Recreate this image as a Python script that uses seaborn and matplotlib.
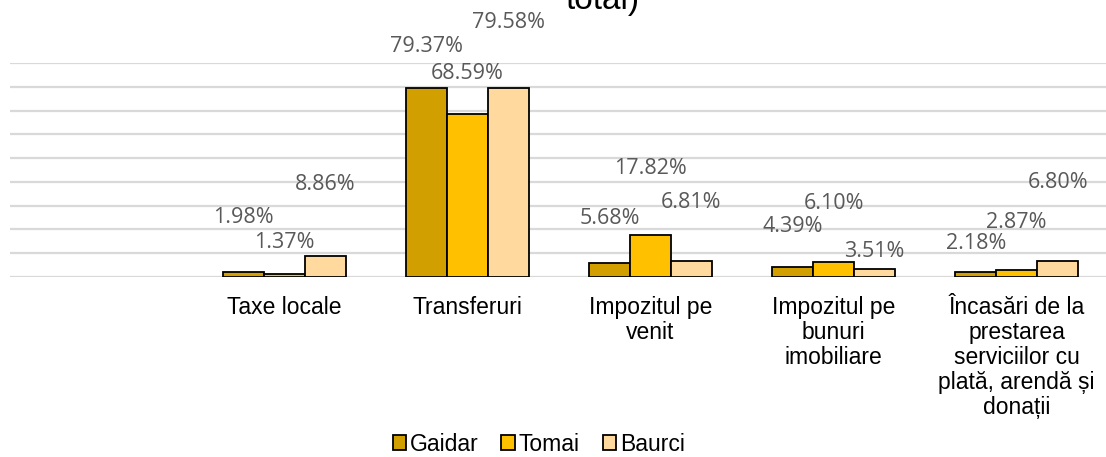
import pandas as pd
import matplotlib.pyplot as plt
import seaborn as sns

# categories (first slot is empty in the original chart)
categories = ["", "Taxe locale", "Transferuri", "Impozitul pe\nvenit",
              "Impozitul pe\nbunuri\nimobiliare",
              "Încasări de la\nprestarea\nserviciilor cu\nplată, arendă și\ndonații"]
series = ["Gaidar", "Tomai", "Baurci"]
gaidar = [1.98, 79.37, 5.68, 4.39, 2.18]
tomai = [1.37, 68.59, 17.82, 6.10, 2.87]
baurci = [8.86, 79.58, 6.81, 3.51, 6.80]

# where the data labels sit (y in axis units), as placed in the original
label_y = {
    "Gaidar": [25.2, 97.1, 24.8, 21.4, 13.9],
    "Tomai": [14.3, 85.7, 45.8, 30.7, 23.1],
    "Baurci": [38.7, 107.1, 31.5, 10.9, 39.9],
}
colors = ["#D29F00", "#FFC000", "#FFD99E"]

rows = []
for name, vals in zip(series, [gaidar, tomai, baurci]):
    for cat, v in zip(categories[1:], vals):
        rows.append({"cat": cat, "sat": name, "val": v})
df = pd.DataFrame(rows)

sns.set_theme(style="white")
plt.rcParams['font.family'] = ['Liberation Sans', 'DejaVu Sans']

fig = plt.figure(figsize=(11.06, 4.57), dpi=100)
ax = fig.add_axes([0.009, 0.394, 0.993, 0.468])

sns.barplot(data=df, x="cat", y="val", hue="sat", order=categories,
            hue_order=series, palette=colors, width=0.67,
            edgecolor="black", linewidth=1.3, saturation=1, ax=ax)

ax.set_ylim(0, 90)
ax.set_yticks(range(0, 91, 10))
ax.yaxis.grid(True, color="#D9D9D9", linewidth=1.6)
ax.set_axisbelow(True)
ax.set_yticklabels([])
ax.tick_params(axis="y", length=0)
ax.tick_params(axis="x", length=0, pad=14, colors="black")
for lbl in ax.get_xticklabels():
    lbl.set_fontsize(16.5)
    lbl.set_linespacing(1.1)
    lbl.set_ha("center")
ax.set_xlabel("")
ax.set_ylabel("")
sns.despine(ax=ax, left=True, bottom=True)

# data labels
vals_by_series = dict(zip(series, [gaidar, tomai, baurci]))
for name, cont in zip(series, ax.containers):
    for bar, v, ly in zip(cont, vals_by_series[name], label_y[name]):
        ax.text(bar.get_x() + bar.get_width() / 2, ly, f"{v:.2f}%",
                ha="center", va="center", fontsize=15.5, color="#595959",
                family=["Open Sans", "DejaVu Sans"], clip_on=False)

ax.get_legend().remove()
handles = [plt.Rectangle((0, 0), 1, 1, facecolor=c, edgecolor="black", linewidth=1.3)
           for c in colors]
leg = fig.legend(handles, series, loc="center", bbox_to_anchor=(0.487, 0.028), ncol=3,
                 frameon=False, fontsize=16.5, handlelength=0.6, handleheight=0.6,
                 handletextpad=0.15, columnspacing=1.0, borderpad=0)
for t in leg.get_texts():
    t.set_color("black")

# title is cut off at the top edge in the reference
fig.text(0.545, 1.0, "total)", ha="center", va="center", fontsize=24, color="black")

fig.savefig("out.png", dpi=100)
plt.close()
